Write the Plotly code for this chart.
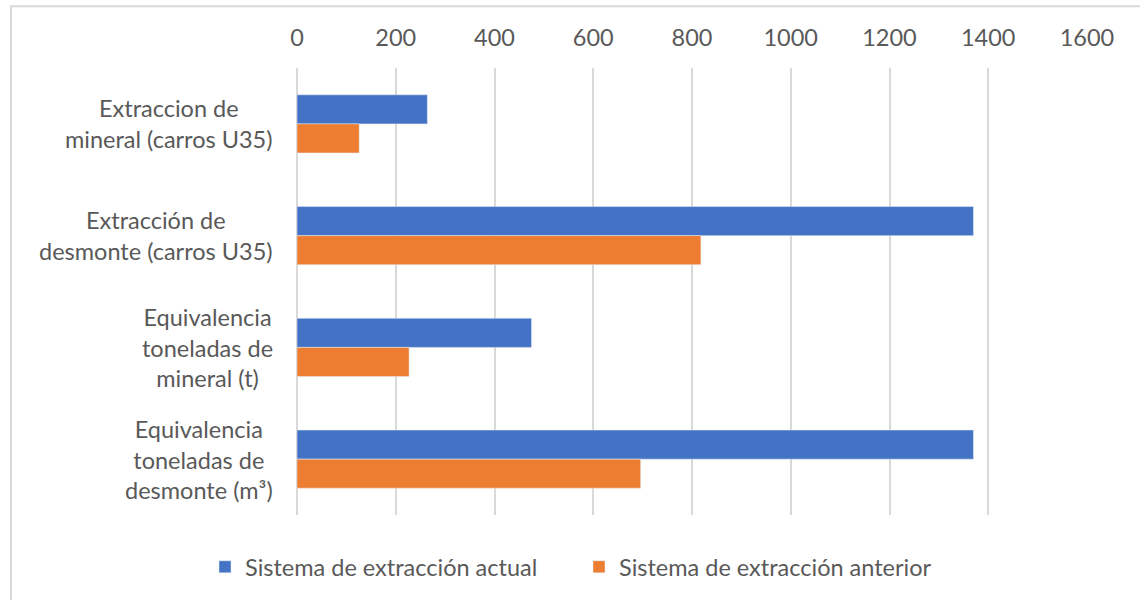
import plotly.graph_objects as go

# Categorías (de arriba hacia abajo) y valores de cada sistema
categorias = [
    "Extraccion de<br>mineral (carros U35)",
    "Extracción de<br>desmonte (carros U35)",
    "Equivalencia<br>toneladas de<br>mineral (t)",
    "Equivalencia<br>toneladas de<br>desmonte (m³)",
]
sistema_actual = [264, 1370, 475, 1370]
sistema_anterior = [126, 818, 227, 696]

eje_x_ticks = [0, 200, 400, 600, 800, 1000, 1200, 1400, 1600]

AZUL = "#4472C4"
NARANJA = "#ED7D31"
GRIS_TEXTO = "#595959"
GRIS_LINEA = "#D9D9D9"
FUENTE = "Lato"
TAM = 23.5

fig = go.Figure()
fig.add_trace(go.Bar(
    y=categorias, x=sistema_actual, orientation="h",
    name="Sistema de extracción actual",
    marker=dict(color=AZUL),
))
fig.add_trace(go.Bar(
    y=categorias, x=sistema_anterior, orientation="h",
    name="Sistema de extracción anterior",
    marker=dict(color=NARANJA),
))

# Etiquetas de categoría centradas línea por línea
for cat in categorias:
    fig.add_annotation(
        x=0, xref="paper", y=cat, yref="y",
        text=cat, showarrow=False, xanchor="right", yanchor="middle",
        align="center", xshift=-22,
        font=dict(family=FUENTE, size=TAM, color=GRIS_TEXTO),
    )

# Marco del gráfico
fig.add_shape(
    type="rect", xref="paper", yref="paper",
    x0=(11 - 297) / 790, x1=(1150 - 297) / 790,
    y0=(516 - 610) / 448, y1=(516 - 6) / 448,
    line=dict(color=GRIS_LINEA, width=2), fillcolor="rgba(0,0,0,0)",
    layer="below",
)

fig.update_layout(
    width=1140, height=600,
    margin=dict(l=297, r=53, t=68, b=84),
    paper_bgcolor="white", plot_bgcolor="white",
    barmode="group", bargap=0.48, bargroupgap=0,
    font=dict(family=FUENTE, size=TAM, color=GRIS_TEXTO),
    xaxis=dict(
        side="top", range=[0, 1600], tickvals=eje_x_ticks,
        showgrid=True, gridcolor=GRIS_LINEA, gridwidth=2,
        zeroline=True, zerolinecolor=GRIS_LINEA, zerolinewidth=2,
        showline=False, ticks="", ticklabelstandoff=16,
        tickfont=dict(family=FUENTE, size=TAM, color=GRIS_TEXTO),
    ),
    yaxis=dict(
        autorange="reversed", showticklabels=False, showgrid=False,
        zeroline=False, showline=False, ticks="",
    ),
    legend=dict(
        orientation="h", x=(205 - 297) / 790, xanchor="left",
        y=-(567 - 516) / 448, yanchor="middle",
        font=dict(family=FUENTE, size=TAM, color=GRIS_TEXTO),
        traceorder="normal", entrywidth=329, entrywidthmode="pixels",
    ),
    showlegend=True,
)

fig.write_html("out.html")
